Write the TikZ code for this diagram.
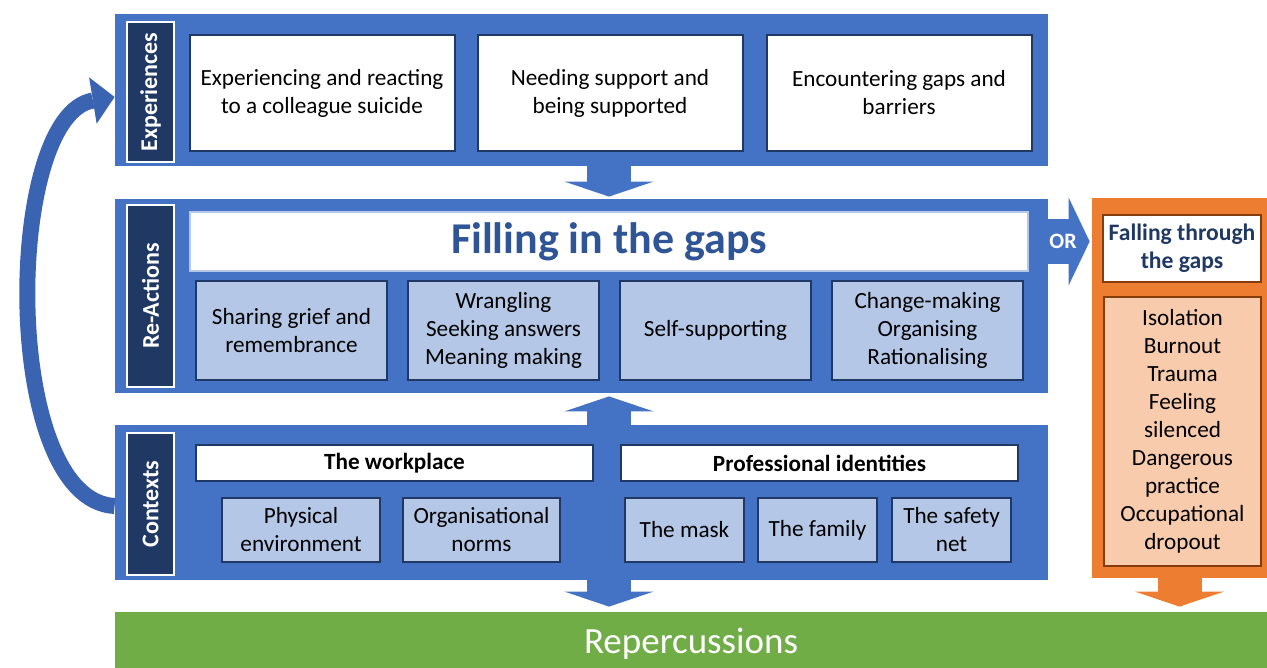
\documentclass[tikz,border=0pt]{standalone}
\usepackage{fontspec}
\setmainfont{Carlito}
\usetikzlibrary{positioning, arrows.meta}

\definecolor{panelblue}{HTML}{4472C4}
\definecolor{navy}{HTML}{1F3864}
\definecolor{paleblue}{HTML}{B4C7E7}
\definecolor{titleblue}{HTML}{2F5597}
\definecolor{curveblue}{HTML}{3A64B2}
\definecolor{orangecol}{HTML}{ED7D31}
\definecolor{paleorange}{HTML}{F8CBAD}
\definecolor{darkbrown}{HTML}{843C0C}
\definecolor{leafgreen}{HTML}{70AD47}

\tikzset{
  panel/.style={fill=panelblue, minimum width=466.5pt, inner sep=0pt},
  sidelabel/.style={fill=navy, draw=white, line width=1pt, text=white, rotate=90,
    minimum height=23.5pt, inner sep=0pt, font=\fontsize{12}{14}\selectfont\bfseries},
  whitebox/.style={fill=white, draw=navy, line width=1pt, align=center, inner sep=0pt,
    font=\fontsize{11.6}{14}\selectfont},
  palebox/.style={whitebox, fill=paleblue},
  blockarrow/.style={draw=panelblue, line width=22pt,
    -{Triangle[length=7.5pt, width=44.5pt, line width=0pt]}},
  orangearrow/.style={blockarrow, draw=orangecol},
}

\begin{document}
\begin{tikzpicture}[x=0.5pt, y=-0.5pt]
  \useasboundingbox (0,0) rectangle (1267,668);

  % the three panels
  \node[panel, minimum height=76pt] (exp) at (581.5,90) {};
  \node[panel, minimum height=97pt] (react) at (581.5,296) {};
  \node[panel, minimum height=77.5pt] (ctx) at (581.5,502.5) {};

  \node[sidelabel, minimum width=70pt] (explbl) at (150.5,92) {Experiences};
  \node[sidelabel, minimum width=91pt] (reactlbl) at (150.5,296) {Re-Actions};
  \node[sidelabel, minimum width=71pt] (ctxlbl) at (150.5,504) {Contexts};

  % experiences
  \node[whitebox, minimum width=132.5pt, minimum height=58pt] (expA) at (322,93)
    {Experiencing and reacting\\to a colleague suicide};
  \node[whitebox, minimum width=132.5pt, minimum height=58pt, right=10.5pt of expA] (expB)
    {Needing support and\\being supported};
  \node[whitebox, minimum width=132.5pt, minimum height=58pt, right=11pt of expB] (expC)
    {Encountering gaps and\\barriers};

  % re-actions
  \node[whitebox, draw=paleblue, minimum width=419pt, minimum height=29.5pt, text=titleblue,
    font=\fontsize{22}{24}\selectfont\bfseries] (filltitle) at (609,241.5) {Filling in the gaps};
  \node[palebox, minimum width=95.5pt, minimum height=49.5pt] (share) at (291.5,330.5)
    {Sharing grief and\\remembrance};
  \node[palebox, minimum width=95.5pt, minimum height=49.5pt, right=9.5pt of share] (wrangle)
    {Wrangling\\Seeking answers\\Meaning making};
  \node[palebox, minimum width=95.5pt, minimum height=49.5pt, right=9.5pt of wrangle] (selfsup)
    {Self-supporting};
  \node[palebox, minimum width=95.5pt, minimum height=49.5pt, right=9.5pt of selfsup] (change)
    {Change-making\\Organising\\Rationalising};

  % contexts
  \node[whitebox, minimum width=198.5pt, minimum height=18pt,
    font=\fontsize{11.6}{14}\selectfont\bfseries] (workplace) at (394.5,463) {The workplace};
  \node[whitebox, minimum width=198.5pt, minimum height=18pt, right=13pt of workplace,
    font=\fontsize{11.6}{14}\selectfont\bfseries] (profid) {Professional identities};
  \node[palebox, minimum width=79pt, minimum height=32pt] (physical) at (301,530)
    {Physical\\environment};
  \node[palebox, minimum width=78.5pt, minimum height=32pt, right=10.5pt of physical] (orgnorms)
    {Organisational\\norms};
  \node[palebox, minimum width=59.5pt, minimum height=32pt] (mask) at (684.5,530) {The mask};
  \node[palebox, minimum width=59.5pt, minimum height=32pt, right=6pt of mask] (family) {The family};
  \node[palebox, minimum width=59.5pt, minimum height=32pt, right=6.5pt of family] (safety)
    {The safety\\net};

  % falling through
  \node[fill=orangecol, minimum width=87.5pt, minimum height=190pt, inner sep=0pt] (fallcol)
    at (1179.5,388) {};
  \node[whitebox, draw=darkbrown, minimum width=79pt, minimum height=33.5pt, text=navy,
    font=\fontsize{11.8}{14}\selectfont\bfseries] (falltitle) at (1182,248.5) {Falling through\\the gaps};
  \node[whitebox, draw=darkbrown, fill=paleorange, minimum width=78.5pt, minimum height=134.5pt]
    (falllist) at (1182.5,431.5)
    {Isolation\\Burnout\\Trauma\\Feeling\\silenced\\Dangerous\\practice\\Occupational\\dropout};

  % repercussions
  \node[fill=leafgreen, minimum width=576pt, minimum height=32pt, inner sep=0pt, text=white,
    font=\fontsize{18.5}{20}\selectfont] (repercussions) at (691,644) {Repercussions};

  % arrows
  \draw[blockarrow, shorten >=1pt] (filltitle.north |- exp.south) -- (filltitle.north |- react.north);
  \draw[blockarrow, shorten >=1.5pt] (filltitle.north |- ctx.north) -- (filltitle.north |- react.south);
  \draw[blockarrow, shorten >=2.5pt] (filltitle.north |- ctx.south) -- (filltitle.north |- repercussions.north);
  \draw[orangearrow, shorten >=2.5pt] (fallcol.south) -- (fallcol.south |- repercussions.north);
  \draw[blockarrow, line width=22.5pt, shorten >=1pt,
    -{Triangle[length=10.5pt, width=44pt, line width=0pt]}]
    (filltitle.east -| react.east) -- (filltitle.east -| fallcol.west)
    node[midway, xshift=-3.5pt, text=white, font=\fontsize{11}{12}\selectfont\bfseries] (ortext) {OR};
  \draw[draw=curveblue, line width=8pt, -{Triangle[length=11pt, width=23.5pt, line width=0pt]}]
    ([yshift=-1.75pt]ctx.west) .. controls (0,500) and (4,115) .. ([yshift=-3.5pt]exp.west);
\end{tikzpicture}
\end{document}
